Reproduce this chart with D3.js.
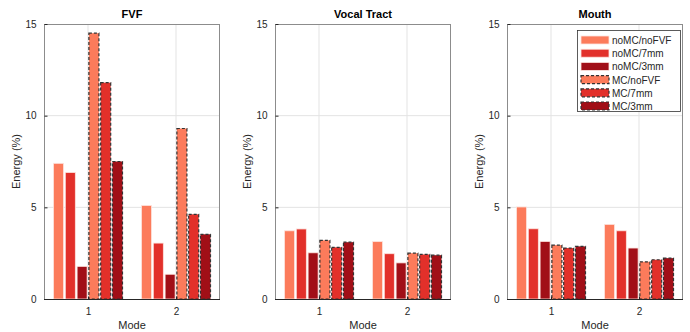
<!DOCTYPE html>
<html>
<head>
<meta charset="utf-8">
<script src="https://cdn.jsdelivr.net/npm/d3@7"></script>
<style>
  body { margin: 0; background: #fff; }
  text { font-family: "Liberation Sans", Arial, sans-serif; }
</style>
</head>
<body>
<div id="chart"></div>
<script>
// data
const modes = [1, 2];
const series = ["noMC/noFVF", "noMC/7mm", "noMC/3mm", "MC/noFVF", "MC/7mm", "MC/3mm"];
const seriesColor = ["#fc7b5b", "#e2302a", "#a10f17", "#fc7b5b", "#e2302a", "#a10f17"];
const dashed = [false, false, false, true, true, true];
const panels = ["FVF", "Vocal Tract", "Mouth"];
// values[panel][mode] = 6 series
const fvf = [[7.4, 6.9, 1.78, 14.5, 11.8, 7.5], [5.1, 3.05, 1.35, 9.3, 4.62, 3.53]];
const vocalTract = [[3.72, 3.82, 2.52, 3.2, 2.82, 3.1], [3.13, 2.47, 1.97, 2.5, 2.43, 2.39]];
const mouth = [[5.02, 3.83, 3.14, 2.94, 2.78, 2.87], [4.07, 3.72, 2.78, 2.03, 2.14, 2.23]];
const panelData = [fvf, vocalTract, mouth];
const yTicks = [0, 5, 10, 15];

const W = 690, H = 332;
const panelLeft = [44, 275, 507];
const pw = 176, plotTop = 24, plotBottom = 299;

const svg = d3.select("#chart").append("svg")
  .attr("width", W).attr("height", H);

const axisCol = "#262626";

panels.forEach((name, p) => {
  const g = svg.append("g").attr("transform", "translate(" + panelLeft[p] + ",0)");

  const x = d3.scaleLinear().domain([0.5, 2.5]).range([0, pw]);
  const y = d3.scaleLinear().domain([0, 15]).range([plotBottom, plotTop]);
  const inner = d3.scaleBand().domain(series)
    .range([-0.392 * 88, 0.392 * 88]).paddingInner(0.15);

  // grid
  g.selectAll(".gy").data(yTicks.slice(1, 3)).enter().append("line")
    .attr("x1", 0).attr("x2", pw)
    .attr("y1", d => y(d)).attr("y2", d => y(d))
    .attr("stroke", "#e3e3e3").attr("stroke-width", 1);
  g.selectAll(".gx").data(modes).enter().append("line")
    .attr("x1", d => x(d)).attr("x2", d => x(d))
    .attr("y1", plotTop).attr("y2", plotBottom)
    .attr("stroke", "#e3e3e3").attr("stroke-width", 1);

  // bars
  modes.forEach((m, mi) => {
    g.append("g").selectAll("rect")
      .data(panelData[p][mi])
      .enter().append("rect")
        .attr("x", (d, i) => x(m) + inner(series[i]))
        .attr("y", d => y(d))
        .attr("width", inner.bandwidth())
        .attr("height", d => plotBottom - y(d))
        .attr("fill", (d, i) => seriesColor[i])
        .attr("stroke", (d, i) => dashed[i] ? "#333" : "#fde4de")
        .attr("stroke-width", (d, i) => dashed[i] ? 1.2 : 0.8)
        .attr("stroke-dasharray", (d, i) => dashed[i] ? "3,2" : null);
  });

  // box
  g.append("rect").attr("x", 0.5).attr("y", plotTop + 0.5)
    .attr("width", pw - 1).attr("height", plotBottom - plotTop)
    .attr("fill", "none").attr("stroke", "#8c8c8c").attr("stroke-width", 1);

  // y axis
  const yAx = g.append("g").attr("transform", "translate(0.5,0)")
    .call(d3.axisLeft(y).tickValues(yTicks).tickSize(-3).tickPadding(8));
  yAx.select(".domain").remove();
  yAx.selectAll("line").attr("stroke", axisCol);
  yAx.selectAll("text").attr("fill", axisCol).style("font-size", "10px")
    .style("font-family", "Liberation Sans, Arial, sans-serif");

  // x axis
  const xAx = g.append("g").attr("transform", "translate(0," + (plotBottom + 0.5) + ")")
    .call(d3.axisBottom(x).tickValues(modes).tickFormat(d3.format("d"))
      .tickSize(-3).tickPadding(8));
  xAx.select(".domain").attr("stroke", axisCol).attr("d", "M0,0H" + pw);
  xAx.selectAll("line").attr("stroke", axisCol);
  xAx.selectAll("text").attr("fill", axisCol).style("font-size", "10px")
    .style("font-family", "Liberation Sans, Arial, sans-serif");

  // title
  g.append("text").attr("x", pw / 2).attr("y", 18)
    .attr("text-anchor", "middle").attr("font-weight", "bold")
    .attr("font-size", "11px").attr("fill", "#000").text(name);

  // axis labels
  g.append("text").attr("x", pw / 2).attr("y", 329)
    .attr("text-anchor", "middle").attr("font-size", "11px")
    .attr("fill", axisCol).text("Mode");
  g.append("text")
    .attr("transform", "translate(-24," + ((plotTop + plotBottom) / 2) + ") rotate(-90)")
    .attr("text-anchor", "middle").attr("font-size", "11px")
    .attr("fill", axisCol).text("Energy (%)");
});

// legend in the Mouth panel
const lg = svg.append("g").attr("transform", "translate(577,30)");
lg.append("rect").attr("x", 0.5).attr("y", 0.5).attr("width", 103).attr("height", 81)
  .attr("fill", "#fff").attr("stroke", "#333").attr("stroke-width", 0.8);
series.forEach((s, i) => {
  const yy = 6 + i * 13.2;
  lg.append("rect").attr("x", 4).attr("y", yy).attr("width", 28).attr("height", 8)
    .attr("fill", seriesColor[i])
    .attr("stroke", dashed[i] ? "#333" : "#fde4de")
    .attr("stroke-width", dashed[i] ? 1.2 : 0.8)
    .attr("stroke-dasharray", dashed[i] ? "3,2" : null);
  lg.append("text").attr("x", 35).attr("y", yy + 8)
    .attr("font-size", "10px").attr("fill", axisCol).text(s);
});
</script>
</body>
</html>
